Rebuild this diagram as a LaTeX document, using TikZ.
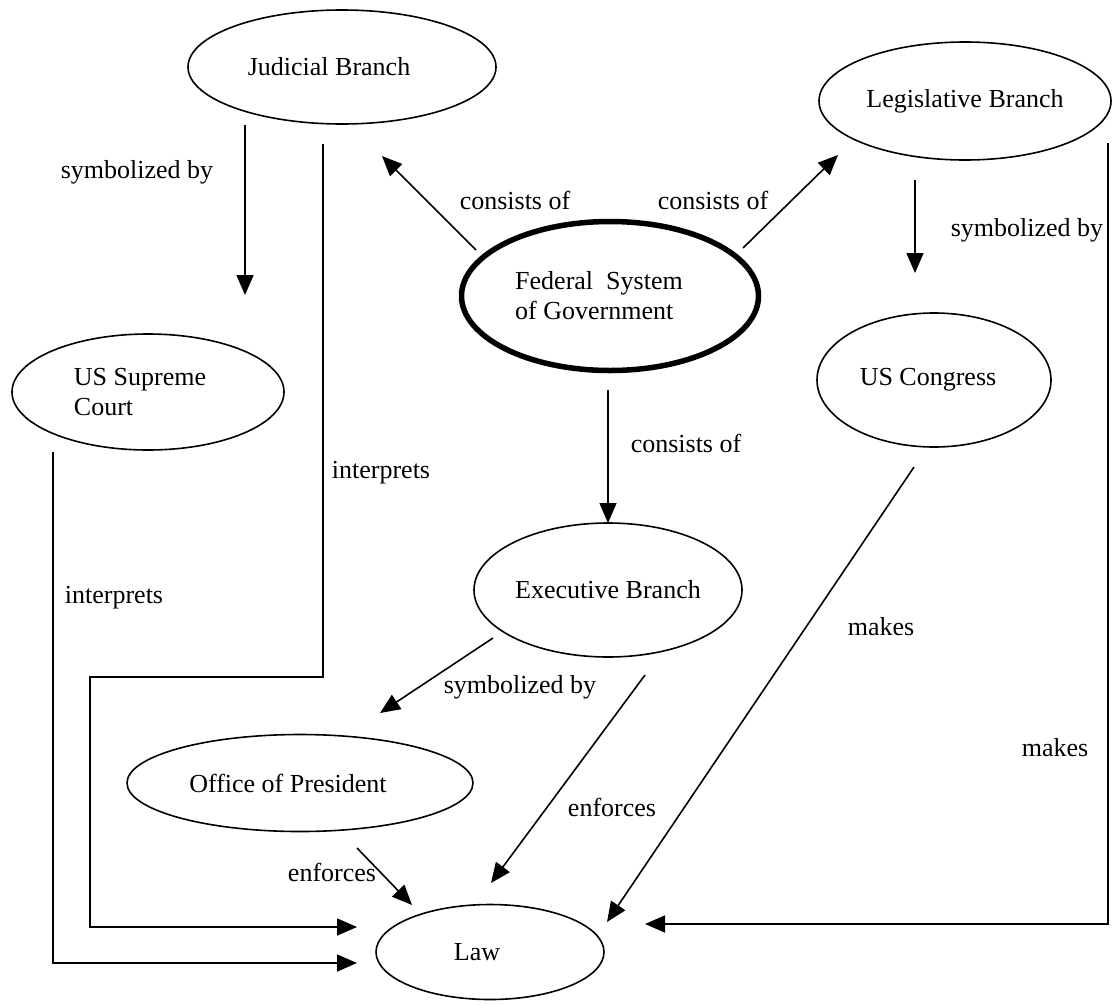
\documentclass[tikz,border=0pt]{standalone}
\usepackage{fontspec}
\setmainfont{Liberation Serif}
\usetikzlibrary{shapes.geometric,arrows.meta,calc}
\begin{document}
\begin{tikzpicture}[x=1pt,y=-1pt,
  txt/.style={font=\fontsize{26}{30}\selectfont},
  concept/.style={ellipse, draw, line width=1.6pt, inner sep=0pt, txt},
  lbl/.style={inner sep=0pt, txt},
  link/.style={line width=1.6pt, -{Triangle[length=20pt,width=17pt]}}]
\useasboundingbox (0,0) rectangle (1113,1004);

% concepts (trailing space nudges the text left of the ellipse centre)
\node[concept, minimum width=308pt, minimum height=114pt] (jud) at (342,67) {Judicial Branch\hspace*{26pt}};
\node[concept, minimum width=292pt, minimum height=118pt] (leg) at (965,101) {Legislative Branch};
\node[concept, line width=5.5pt, minimum width=297pt, minimum height=149pt, align=left] (fed) at (610,296) {Federal\ \ System\hspace*{22pt}\\of Government};
\node[concept, minimum width=272pt, minimum height=116pt, align=left] (sup) at (148,392) {US Supreme\hspace*{16pt}\\Court};
\node[concept, minimum width=234pt, minimum height=134pt] (con) at (934,380) {US Congress\hspace*{12pt}};
\node[concept, minimum width=268pt, minimum height=134pt] (exe) at (608,590) {Executive Branch};
\node[concept, minimum width=346pt, minimum height=97pt] (off) at (300,783) {Office of President\hspace*{24pt}};
\node[concept, minimum width=228pt, minimum height=95pt] (law) at (490,952) {Law\hspace*{26pt}};

% straight links
\draw[link] ($(fed)+(-134,-46)$) -- ($(jud)+(40,89)$);
\draw[link] ($(fed)+(133,-48)$) -- ($(leg)+(-127,54)$);
\draw[link] ($(fed)+(-2,94)$) -- ($(exe)+(0,-67)$);
\draw[link] ($(jud)+(-97,58)$) -- ($(sup)+(97,-97)$);
\draw[link] ($(leg)+(-50,79)$) -- ($(con)+(-19,-107)$);
\draw[link] ($(exe)+(-115,48)$) -- ($(off)+(80,-70)$);
\draw[link] ($(exe)+(37,85)$) -- ($(law)+(1,-69)$);
\draw[link] ($(off)+(57,65)$) -- ($(law)+(-78,-47)$);
\draw[link] ($(con)+(-20,87)$) -- ($(law)+(117,-30)$);

% elbow links
\draw[link] ($(leg)+(143,42)$) |- ($(law)+(155,-28)$);
\draw[link] ($(jud)+(-19,77)$) -- ++(0,533) -- ++(-233,0) |- ($(law)+(-133,-25)$);
\draw[link] ($(sup)+(-95,60)$) |- ($(law)+(-133,11)$);

% link labels
\node[lbl] (c1) at (515,200) {consists of};
\node[lbl] (c2) at (713,200) {consists of};
\node[lbl] (c3) at (686,443) {consists of};
\node[lbl] (s1) at (137,172) {symbolized by};
\node[lbl] (s2) at (1027,230) {symbolized by};
\node[lbl] (s3) at (520,687) {symbolized by};
\node[lbl] (e1) at (612,807) {enforces};
\node[lbl] (e2) at (332,872) {enforces};
\node[lbl] (m1) at (881,627) {makes};
\node[lbl] (m2) at (1055,748) {makes};
\node[lbl] (i1) at (381,473) {interprets};
\node[lbl] (i2) at (114,598) {interprets};
\end{tikzpicture}
\end{document}
